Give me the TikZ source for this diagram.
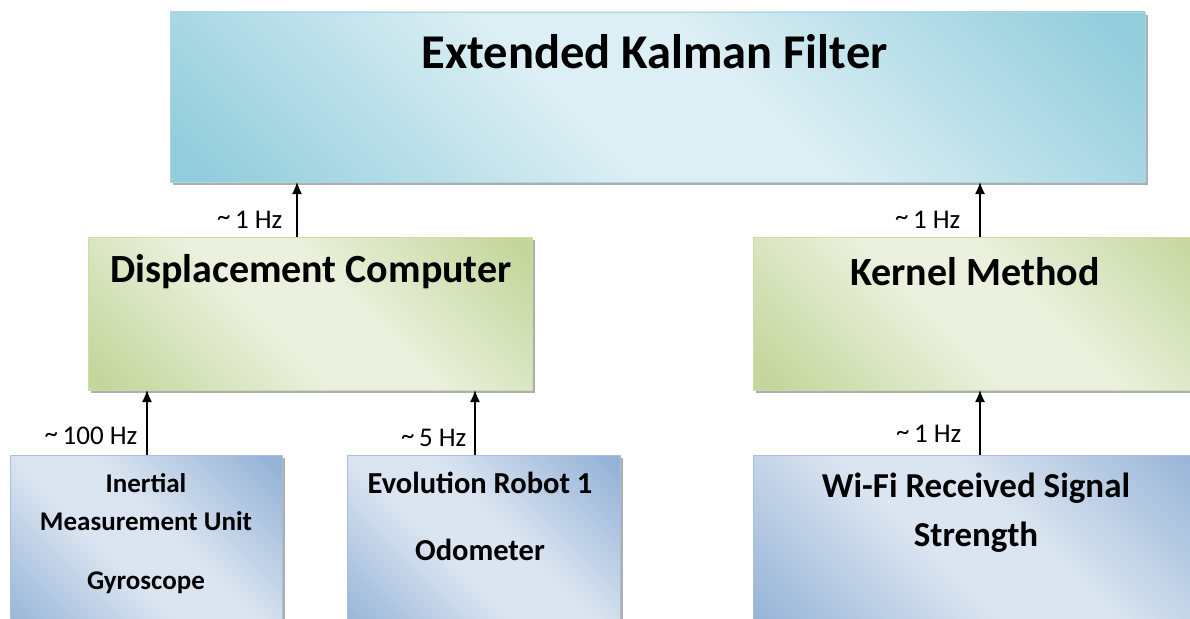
\documentclass[tikz,border=0pt]{standalone}
\usepackage{fontspec}
\setmainfont{Carlito}
\usetikzlibrary{arrows.meta,shadows,calc}
\definecolor{ekfdark}{HTML}{92CDDC}
\definecolor{ekflight}{HTML}{DCEFF4}
\definecolor{ekfborder}{HTML}{A9D7E3}
\definecolor{grndark}{HTML}{C3D69B}
\definecolor{grnlight}{HTML}{EBF1DE}
\definecolor{grnborder}{HTML}{CCDDA8}
\definecolor{bludark}{HTML}{95B3D7}
\definecolor{blulight}{HTML}{DBE5F1}
\definecolor{bluborder}{HTML}{A8C0DE}
\pgfdeclarehorizontalshading{ekfsh}{100bp}{color(0bp)=(ekfdark); color(17bp)=(ekfdark); color(44bp)=(ekflight); color(56bp)=(ekflight); color(83bp)=(ekfdark); color(100bp)=(ekfdark)}
\pgfdeclarehorizontalshading{grnsh}{100bp}{color(0bp)=(grndark); color(17bp)=(grndark); color(44bp)=(grnlight); color(56bp)=(grnlight); color(83bp)=(grndark); color(100bp)=(grndark)}
\pgfdeclarehorizontalshading{blush}{100bp}{color(0bp)=(bludark); color(17bp)=(bludark); color(44bp)=(blulight); color(56bp)=(blulight); color(83bp)=(bludark); color(100bp)=(bludark)}
\newcommand{\tld}{\raisebox{2.5pt}{\textasciitilde}}
\tikzset{
  box/.style={shade, draw, line width=0.9pt, inner sep=0pt, outer sep=0pt, anchor=north west,
    drop shadow={shadow xshift=3pt, shadow yshift=-3pt, fill=black!45, opacity=0.7}},
  ekfbox/.style={box, shading=ekfsh, shading angle=45, draw=ekfborder},
  grnbox/.style={box, shading=grnsh, shading angle=45, draw=grnborder},
  blubox/.style={box, shading=blush, shading angle=45, draw=bluborder},
  arr/.style={-{Latex[length=12pt,width=10pt]}, line width=1.4pt, black},
  lbl/.style={font=\fontsize{27}{30}\selectfont, inner sep=0pt},
  ttl/.style={font=\bfseries\fontsize{40}{44}\selectfont, inner sep=0pt},
  small/.style={font=\bfseries\fontsize{27}{30}\selectfont, inner sep=0pt},
  midtxt/.style={font=\bfseries\fontsize{30.5}{34}\selectfont, inner sep=0pt},
  wifi/.style={font=\bfseries\fontsize{35}{40}\selectfont, inner sep=0pt},
}
\begin{document}
\begin{tikzpicture}[x=1pt,y=-1pt]
\useasboundingbox[fill=white] (0,0) rectangle (1190,618);
% boxes
\node[ekfbox, minimum width=975pt, minimum height=170pt] (ekf) at (170,12) {};
\node[grnbox, minimum width=444pt, minimum height=153pt] (dc) at (88,237) {};
\node[grnbox, minimum width=470pt, minimum height=153pt] (km) at (753,237) {};
\node[blubox, minimum width=272pt, minimum height=190pt] (imu) at (10,455) {};
\node[blubox, minimum width=273pt, minimum height=190pt] (ero) at (347,455) {};
\node[blubox, minimum width=470pt, minimum height=190pt] (wifi) at (753,455) {};
% titles
\node[font=\bfseries\fontsize{48.5}{54}\selectfont, inner sep=0pt] (ekft) at ($(ekf.north)+(-3,40)$) {Extended Kalman Filter};
\node[ttl] (dct) at ($(dc.north)+(1,35)$) {Displacement Computer};
\node[ttl] (kmt) at (975,272) {Kernel Method};
\node[small] (imu1) at (146,483) {Inertial};
\node[small] (imu2) at (146,521) {Measurement Unit};
\node[small] (imu3) at (146,583) {Gyroscope};
\node[midtxt] (ero1) at (480,483) {Evolution Robot 1};
\node[midtxt] (ero2) at (480,550) {Odometer};
\node[wifi] (wifi1) at (976,488) {Wi-Fi Received Signal};
\node[wifi] (wifi2) at (976,537) {Strength};
% arrow columns
\coordinate (c1) at (297,0);
\coordinate (c2) at (980,0);
\coordinate (c3) at (147,0);
\coordinate (c4) at (475,0);
% connectors
\draw[arr] (dc.north -| c1) -- node[lbl, pos=0.32, left=14pt] (l1) {\tld\,1 Hz} (ekf.south -| c1);
\draw[arr] (km.north -| c2) -- node[lbl, pos=0.32, left=19pt] (l2) {\tld\,1 Hz} (ekf.south -| c2);
\draw[arr] (imu.north -| c3) -- node[lbl, pos=0.29, left=9pt] (l3) {\tld\,100 Hz} (dc.south -| c3);
\draw[arr] (ero.north -| c4) -- node[lbl, pos=0.26, left=8pt] (l4) {\tld\,5 Hz} (dc.south -| c4);
\draw[arr] (wifi.north -| c2) -- node[lbl, pos=0.32, left=18pt] (l5) {\tld\,1 Hz} (km.south -| c2);
\end{tikzpicture}
\end{document}
